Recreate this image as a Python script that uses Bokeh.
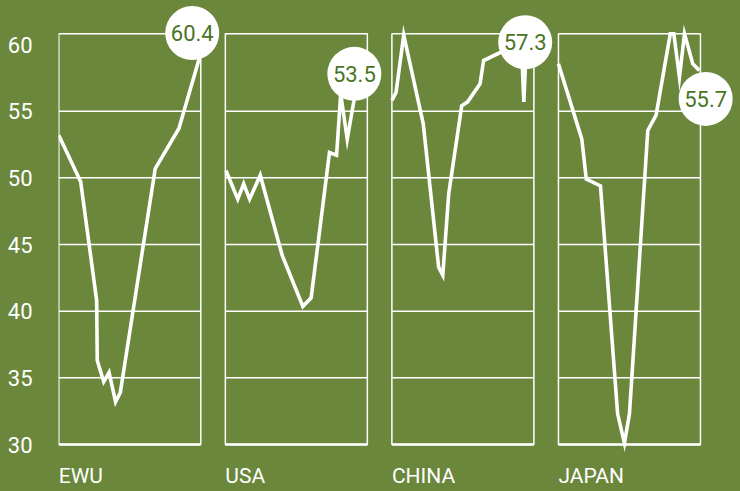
from bokeh.plotting import figure
from bokeh.models import Range1d, FixedTicker, GlobalInlineStyleSheet
from bokeh.embed import file_html
from bokeh.resources import INLINE
from bokeh.core.properties import value

# ---- data (x in months within each panel, y = index value) ----
countries = ["EWU", "USA", "CHINA", "JAPAN"]
latest_labels = ["60.4", "53.5", "57.3", "55.7"]

ewu_x = [0, 3.7, 6.4, 6.5, 7.6, 8.5, 9.6, 10.4, 16.3, 20.3, 23.7, 24.0]
ewu_y = [53.2, 49.7, 40.8, 36.3, 34.7, 35.4, 33.2, 33.9, 50.7, 53.7, 58.9, 60.4]

usa_x = [0.1, 2.1, 3.1, 4.1, 5.9, 9.6, 13.1, 14.5, 17.6, 18.8, 19.5, 20.6, 21.7, 22.2]
usa_y = [50.55, 48.4, 49.55, 48.4, 50.2, 44.2, 40.35, 41.0, 51.9, 51.7, 56.3, 52.9, 55.7, 57.5]

china_x = [0, 0.7, 2.0, 5.3, 7.9, 8.6, 9.6, 11.8, 12.8, 14.9, 15.5, 18.3, 21.9, 22.3, 22.7]
china_y = [55.8, 56.4, 60.7, 54.05, 43.3, 42.7, 48.8, 55.4, 55.7, 57.05, 58.8, 59.4, 59.8, 55.7, 59.8]

japan_x = [0, 3.95, 4.7, 7.1, 10.0, 11.15, 12.0, 15.1, 16.5, 18.9, 19.5, 20.45, 21.3, 22.7, 23.8]
japan_y = [58.55, 52.9, 49.9, 49.4, 32.3, 30.1, 32.3, 53.55, 54.7, 60.8, 60.8, 57.55, 60.8, 58.55, 58.05]

series_x = [ewu_x, usa_x, china_x, japan_x]
series_y = [ewu_y, usa_y, china_y, japan_y]

# badge (label bubble) anchors, in each panel's data units
badge_x = [22.55, 21.8, 22.53, 24.88]
badge_y = [60.86, 57.8, 60.17, 55.92]

y_ticks = [30, 35, 40, 45, 50, 55, 60]
grid_levels = [35, 40, 45, 50, 55]
y_floor, y_ceiling = 30, 60.8
panel_months = 24
label_level = 27.62

# ---- styling / layout ----
BG = "#6a873c"
FG = "#ffffff"
BADGE_TXT = "#4a7424"
FONT = "Roboto"

W, H = 740, 491
LEFT = 58
UNIT = 142 / 24          # px per month
SP = 28.15               # panel offset in months
Y_PX = 13.333            # px per index point
BASE_PX = 444            # pixel row of the 30 line
x_start = -0.05
x_end = x_start + (W - LEFT) / UNIT
y_start = 30 - (H - BASE_PX) / Y_PX
y_end = y_start + H / Y_PX

p = figure(width=W, height=H, output_backend="svg", toolbar_location=None,
           x_range=Range1d(x_start, x_end), y_range=Range1d(y_start, y_end),
           x_axis_location=None, min_border=0, min_border_left=LEFT)
p.background_fill_color = BG
p.border_fill_color = BG
p.outline_line_color = None
p.grid.visible = False
p.stylesheets = [GlobalInlineStyleSheet(
    css=f"html, body {{ background: {BG}; margin: 0; padding: 0; overflow: hidden; }}")]

ax = p.yaxis[0]
ax.ticker = FixedTicker(ticks=y_ticks)
ax.axis_line_color = None
ax.major_tick_line_color = None
ax.minor_tick_line_color = None
ax.major_label_standoff = 20
ax.major_label_text_color = FG
ax.major_label_text_font = FONT
ax.major_label_text_font_size = "22px"

offsets = [k * SP for k in range(len(countries))]

# panel frames
p.quad(left=offsets, right=[o + panel_months for o in offsets],
       bottom=[y_floor] * 4, top=[y_ceiling] * 4,
       fill_color=None, line_color=FG, line_width=1.5)

# gridlines inside each panel
gx0, gx1, gy = [], [], []
for o in offsets:
    for g in grid_levels:
        gx0.append(o); gx1.append(o + panel_months); gy.append(g)
p.segment(x0=gx0, y0=gy, x1=gx1, y1=gy, line_color=FG, line_width=1.5)
p.segment(x0=offsets, y0=[y_floor] * 4, x1=[o + panel_months for o in offsets],
          y1=[y_floor] * 4, line_color=FG, line_width=2.5)

# series lines
for o, xs, ys in zip(offsets, series_x, series_y):
    p.line([o + x for x in xs], ys, line_color=FG, line_width=3.6, line_join="miter")

# badges
bx = [o + b for o, b in zip(offsets, badge_x)]
p.scatter(bx, badge_y, size=54, fill_color=FG, line_color=None)
p.text(bx, badge_y, text=latest_labels, text_color=BADGE_TXT,
       text_font=value(FONT), text_font_size="22px",
       text_align="center", text_baseline="middle")

# country labels
p.text(offsets, [label_level] * 4, text=countries, text_color=FG,
       text_font=value(FONT), text_font_size="21px",
       text_align="left", text_baseline="middle")

open("out.html", "w").write(file_html(p, INLINE))
